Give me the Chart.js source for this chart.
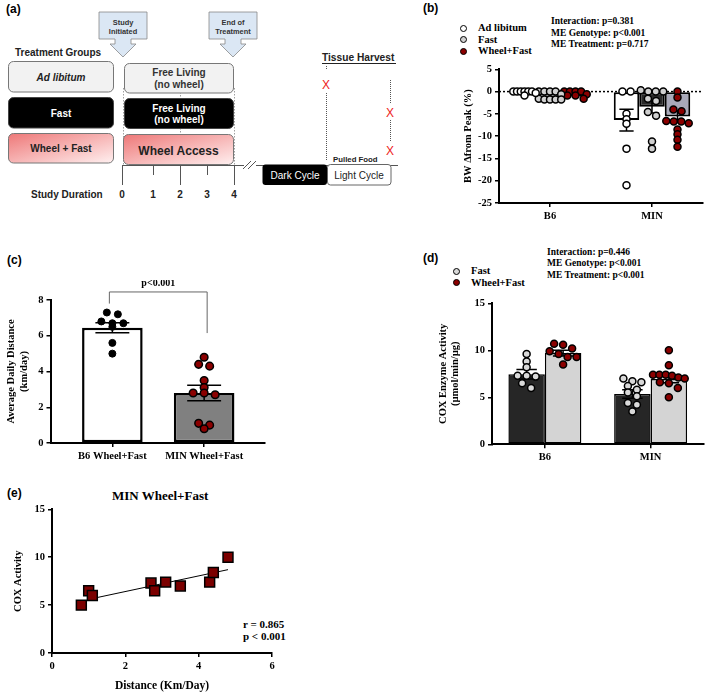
<!DOCTYPE html>
<html lang="en">
<head>
<meta charset="UTF-8">
<title>Wheel running, fasting and COX activity</title>
<script src="https://cdn.jsdelivr.net/npm/chart.js"></script>
<style>
    body { margin: 0; background: #fff; }
    #fig { position: relative; width: 709px; height: 693px; overflow: hidden; font-family: "Liberation Serif", "Times New Roman", serif; color: #000; }
    .abs { position: absolute; white-space: nowrap; }
    .panel { font-family: "Liberation Sans", Arial, sans-serif; font-weight: bold; font-size: 12px; line-height: 14px; }
    .stats { font-weight: bold; font-size: 9.5px; line-height: 11.5px; }
    .leg { font-weight: bold; font-size: 10.5px; line-height: 11.5px; }
    .dot { display: inline-block; width: 5px; height: 5px; border: 1.5px solid #000; border-radius: 50%; margin-right: 11px; vertical-align: -0.5px; }
    canvas { position: absolute; }
</style>
</head>
<body>
<div id="fig">
    <!-- (a) study design schematic -->
    <svg class="abs" style="left:0;top:0" width="400" height="205" font-family="'Liberation Sans', Arial, sans-serif" font-weight="bold">
        <defs>
            <linearGradient id="pinkGrad" x1="0" y1="0" x2="1" y2="1">
                <stop offset="0" stop-color="#ee7878"/>
                <stop offset="1" stop-color="#fff0f0"/>
            </linearGradient>
        </defs>
        <text x="6" y="13" font-size="12">(a)</text>

        <polygon points="99,12 147,12 147,39 131,39 131,44 136,44 123,57 110,44 115,44 115,39 99,39" fill="#dbe7f4" stroke="#888" stroke-width="0.8"/>
        <text x="123" y="24.5" font-size="7.4" text-anchor="middle" fill="#333">Study</text>
        <text x="123" y="33.5" font-size="7.4" text-anchor="middle" fill="#333">Initiated</text>
        <polygon points="209,12 257,12 257,39 241,39 241,44 246,44 233,57 220,44 225,44 225,39 209,39" fill="#dbe7f4" stroke="#888" stroke-width="0.8"/>
        <text x="233" y="24.5" font-size="7.4" text-anchor="middle" fill="#333">End of</text>
        <text x="233" y="33.5" font-size="7.4" text-anchor="middle" fill="#333">Treatment</text>

        <text x="15" y="56" font-size="10" fill="#222">Treatment Groups</text>
        <rect x="8.5" y="61.5" width="105" height="30.5" rx="5" fill="#f2f2f2" stroke="#777"/>
        <text x="61" y="80.5" font-size="10" font-style="italic" text-anchor="middle" fill="#222">Ad libitum</text>
        <rect x="8.5" y="97.5" width="105" height="30.5" rx="5" fill="#000" stroke="#444"/>
        <text x="61" y="116.5" font-size="10" text-anchor="middle" fill="#fff">Fast</text>
        <rect x="8.5" y="133.5" width="105" height="29.5" rx="5" fill="url(#pinkGrad)" stroke="#777"/>
        <text x="61" y="151.5" font-size="10" text-anchor="middle" fill="#222">Wheel + Fast</text>

        <g stroke="#888" stroke-width="0.8" stroke-dasharray="1.5,1.5">
            <line x1="123.5" y1="88" x2="123.5" y2="165"/>
            <line x1="234.5" y1="88" x2="234.5" y2="165"/>
            <line x1="180.5" y1="92" x2="180.5" y2="98"/>
            <line x1="180.5" y1="128" x2="180.5" y2="135"/>
        </g>
        <rect x="124.5" y="63.5" width="109" height="29.5" rx="5" fill="#f2f2f2" stroke="#777"/>
        <text x="179" y="75.5" font-size="10" text-anchor="middle" fill="#333">Free Living</text>
        <text x="179" y="87.5" font-size="10" text-anchor="middle" fill="#333">(no wheel)</text>
        <rect x="124.5" y="98.5" width="109" height="30" rx="5" fill="#000" stroke="#444"/>
        <text x="179" y="111.5" font-size="10" text-anchor="middle" fill="#fff">Free Living</text>
        <text x="179" y="123" font-size="10" text-anchor="middle" fill="#fff">(no wheel)</text>
        <rect x="123.5" y="134.5" width="110" height="30" rx="5" fill="url(#pinkGrad)" stroke="#777"/>
        <text x="178.5" y="155" font-size="12" text-anchor="middle" fill="#222">Wheel Access</text>

        <g stroke="#555" stroke-width="1">
            <line x1="122" y1="165.5" x2="244" y2="165.5"/>
            <line x1="256" y1="165.5" x2="398" y2="165.5"/>
            <line x1="243" y1="169" x2="251" y2="161"/>
            <line x1="248" y1="169" x2="256" y2="161"/>
            <line x1="122.5" y1="165" x2="122.5" y2="185"/>
            <line x1="153.5" y1="165" x2="153.5" y2="175"/>
            <line x1="180.5" y1="165" x2="180.5" y2="185"/>
            <line x1="207.5" y1="165" x2="207.5" y2="175"/>
            <line x1="234.5" y1="165" x2="234.5" y2="185"/>
        </g>
        <text x="31" y="198" font-size="10" fill="#222">Study Duration</text>
        <g font-size="10" text-anchor="middle" fill="#222">
            <text x="122" y="198">0</text>
            <text x="153" y="198">1</text>
            <text x="180" y="198">2</text>
            <text x="207" y="198">3</text>
            <text x="234" y="198">4</text>
        </g>

        <rect x="262.5" y="164.5" width="64.5" height="20.5" rx="3" fill="#000"/>
        <text x="295" y="178.5" font-size="10" font-weight="normal" text-anchor="middle" fill="#fff">Dark Cycle</text>
        <rect x="327.5" y="164.5" width="63.5" height="20.5" rx="3" fill="#fff" stroke="#666"/>
        <text x="359" y="178.5" font-size="10" font-weight="normal" text-anchor="middle" fill="#222">Light Cycle</text>
        <text x="333" y="161.5" font-size="7.8" fill="#222">Pulled Food</text>

        <text x="322" y="61" font-size="10.2" fill="#222">Tissue Harvest</text>
        <line x1="322" y1="63.5" x2="396" y2="63.5" stroke="#222" stroke-width="1"/>
        <g stroke="#555" stroke-width="1" stroke-dasharray="1,1">
            <line x1="326.5" y1="66" x2="326.5" y2="69"/>
            <line x1="326.5" y1="93" x2="326.5" y2="160"/>
            <line x1="390.5" y1="80" x2="390.5" y2="104"/>
            <line x1="390.5" y1="120" x2="390.5" y2="142"/>
        </g>
        <g font-size="12" font-weight="normal" text-anchor="middle" fill="#ee2222">
            <text x="326" y="88.5">X</text>
            <text x="390" y="116.5">X</text>
            <text x="390" y="154.5">X</text>
        </g>
    </svg>

    <!-- (b) -->
    <div class="abs panel" style="left:423px;top:1px">(b)</div>
    <div class="abs leg" style="left:460px;top:22px">
        <div><span class="dot" style="background:#fff"></span>Ad libitum</div>
        <div><span class="dot" style="background:#d0d0d0"></span>Fast</div>
        <div><span class="dot" style="background:#8b0000"></span>Wheel+Fast</div>
    </div>
    <div class="abs stats" style="left:551px;top:16px">
        <div>Interaction: p=0.381</div>
        <div>ME Genotype: p&lt;0.001</div>
        <div>ME Treatment: p=0.717</div>
    </div>
    <canvas id="chartB" width="254" height="172" style="left:455px;top:60px"></canvas>

    <!-- (c) -->
    <div class="abs panel" style="left:7px;top:253px">(c)</div>
    <canvas id="chartC" width="280" height="190" style="left:0px;top:280px"></canvas>

    <!-- (d) -->
    <div class="abs panel" style="left:423px;top:251px">(d)</div>
    <div class="abs leg" style="left:453px;top:265px">
        <div><span class="dot" style="background:#d9d9d9"></span>Fast</div>
        <div><span class="dot" style="background:#8b0000"></span>Wheel+Fast</div>
    </div>
    <div class="abs stats" style="left:547px;top:246.5px">
        <div>Interaction: p=0.446</div>
        <div>ME Genotype: p&lt;0.001</div>
        <div>ME Treatment: p&lt;0.001</div>
    </div>
    <canvas id="chartD" width="279" height="178" style="left:430px;top:294px"></canvas>

    <!-- (e) -->
    <div class="abs panel" style="left:7px;top:486px">(e)</div>
    <div class="abs" style="left:112px;top:488px;font-weight:bold;font-size:13px">MIN Wheel+Fast</div>
    <div class="abs" style="left:243px;top:618px;font-weight:bold;font-size:11px;line-height:12px">r = 0.865<br>p &lt; 0.001</div>
    <canvas id="chartE" width="290" height="193" style="left:0px;top:500px"></canvas>
</div>

<script>
    // ---- data ----
    const genotypes = ['B6', 'MIN'];

    // (b) body weight change from peak (%)
    const bwAdlibMean = [-0.2, -6.4];
    const bwFastMean = [-0.9, -3.4];
    const bwWheelMean = [-0.7, -5.6];
    const bwAdlibSem = [0.1, 2.45];
    const bwFastSem = [0.25, 1.4];
    const bwWheelSem = [0.2, 1.3];
    const bwAdlibB6 = [0, 0, 0, 0, 0, 0, -0.3, -0.9];
    const bwFastB6 = [0, 0, 0, 0, -0.6, -1.6, -1.8, -1.8, -1.8, -1.8];
    const bwWheelB6 = [0, 0, 0, 0, -0.6, -0.9, -0.9, -1.6];
    const bwAdlibMIN = [0, 0, -5.0, -6.2, -7.2, -12.8, -21.0];
    const bwFastMIN = [0.3, 0, 0, 0, -1.6, -2.1, -4.6, -5.4, -11.2, -12.8];
    const bwWheelMIN = [0, -1.3, -4.0, -4.4, -6.6, -6.7, -6.7, -7.1, -8.5, -9.6, -10.8, -12.4];

    // (c) average daily running distance (km/day)
    const runGroups = ['B6 Wheel+Fast', 'MIN Wheel+Fast'];
    const runMean = [6.45, 2.8];
    const runSem = [0.28, 0.43];
    const runB6 = [7.3, 7.2, 6.8, 6.7, 6.7, 6.5, 5.6, 5.0];
    const runMIN = [4.8, 4.4, 4.3, 3.5, 3.1, 2.8, 2.8, 2.7, 1.1, 1.0, 0.8];
    const runSig = 'p<0.001';

    // (d) COX enzyme activity (umol/min/ug)
    const coxFastMean = [7.45, 5.35];
    const coxWheelMean = [9.7, 6.95];
    const coxFastSem = [0.5, 0.45];
    const coxWheelSem = [0.3, 0.4];
    const coxFastB6 = [9.6, 8.8, 8.2, 7.3, 7.3, 7.2, 6.5, 6.0];
    const coxWheelB6 = [10.7, 10.6, 10.2, 9.9, 9.6, 9.3, 9.3, 8.5];
    const coxFastMIN = [7.0, 6.7, 6.6, 6.2, 5.8, 5.5, 5.1, 4.4, 4.2, 3.5];
    const coxWheelMIN = [10.0, 8.4, 7.4, 7.4, 7.4, 7.3, 7.1, 7.0, 6.6, 6.5, 6.0, 5.0];

    // (e) MIN Wheel+Fast: distance vs COX activity
    const distance = [0.8, 1.0, 1.1, 2.7, 2.8, 3.1, 3.5, 4.3, 4.4, 4.8];
    const coxActivity = [5.0, 6.5, 6.0, 7.3, 6.5, 7.4, 7.0, 7.4, 8.4, 10.0];
    const fitX = [1.0, 4.8];
    const fitY = [5.6, 8.7];

    // ---- chart setup ----
    Chart.defaults.font.family = '"Liberation Serif", "Times New Roman", serif';
    Chart.defaults.font.weight = 'bold';
    Chart.defaults.font.size = 10.5;
    Chart.defaults.color = '#000';
    Chart.defaults.animation = false;
    Chart.defaults.plugins.legend.display = false;
    Chart.defaults.plugins.tooltip.enabled = false;

    // spread points with similar values sideways, like a column scatter
    function swarm(vals, center, step, tol, maxWidth) {
        const sorted = [...vals].sort((a, b) => b - a);
        const rows = [];
        sorted.forEach(v => {
            const row = rows[rows.length - 1];
            if (row && row[0] - v < tol) row.push(v);
            else rows.push([v]);
        });
        const pts = [];
        rows.forEach(row => {
            const s = row.length > 1 ? Math.min(step, maxWidth / (row.length - 1)) : 0;
            row.forEach((v, i) => pts.push({ x: center + (i - (row.length - 1) / 2) * s, y: v }));
        });
        return pts;
    }

    function barCenter(i, j, k, cp) {
        return i + (j - (k - 1) / 2) * cp / k;
    }

    const tickGrid = { display: true, drawOnChartArea: false, drawTicks: true, tickLength: 4, color: '#000', lineWidth: 1.5, offset: false };
    const axisBorder = { display: true, color: '#000', width: 2 };

    function yAxis(min, max, step, title, width, titlePad) {
        return {
            min: min, max: max,
            ticks: { stepSize: step, padding: 3 },
            grid: tickGrid,
            border: axisBorder,
            title: { display: true, text: title, padding: { top: titlePad, bottom: 0 }, font: { size: 10.5, weight: 'bold' } },
            afterFit: s => { s.width = width; }
        };
    }

    function catAxis(min, max, labels, height) {
        return {
            type: 'linear', min: min, max: max, offset: false,
            afterBuildTicks: s => { s.ticks = labels.map((_, i) => ({ value: i })); },
            ticks: { callback: v => labels[v], padding: 3, maxRotation: 0, autoSkip: false },
            grid: tickGrid,
            border: axisBorder,
            afterFit: s => { s.height = height; }
        };
    }

    const errorBars = {
        id: 'errorBars',
        afterDatasetDraw(chart, args) {
            const ds = chart.data.datasets[args.index];
            if (!ds.sem) return;
            const ctx = chart.ctx, y = chart.scales.y;
            ctx.save();
            ctx.strokeStyle = '#000';
            ctx.lineWidth = 1.5;
            args.meta.data.forEach((bar, i) => {
                const v = ds.data[i].y;
                const hi = y.getPixelForValue(v + ds.sem[i]);
                const lo = y.getPixelForValue(v - ds.sem[i]);
                const half = bar.width * 0.28;
                ctx.beginPath();
                ctx.moveTo(bar.x, hi); ctx.lineTo(bar.x, lo);
                ctx.moveTo(bar.x - half, hi); ctx.lineTo(bar.x + half, hi);
                ctx.moveTo(bar.x - half, lo); ctx.lineTo(bar.x + half, lo);
                ctx.stroke();
            });
            ctx.restore();
        }
    };

    const zeroLine = {
        id: 'zeroLine',
        beforeDatasetsDraw(chart) {
            const { ctx, chartArea, scales } = chart;
            const y = scales.y.getPixelForValue(0);
            ctx.save();
            ctx.setLineDash([2, 2]);
            ctx.lineWidth = 1.5;
            ctx.strokeStyle = '#000';
            ctx.beginPath();
            ctx.moveTo(chartArea.left, y);
            ctx.lineTo(chartArea.right, y);
            ctx.stroke();
            ctx.restore();
        }
    };

    const bracket = {
        id: 'bracket',
        afterDraw(chart) {
            const { ctx, scales: { x, y } } = chart;
            const x0 = x.getPixelForValue(0) - 3, x1 = x.getPixelForValue(1) + 3;
            const top = y.getPixelForValue(8.45);
            ctx.save();
            ctx.strokeStyle = '#666';
            ctx.lineWidth = 1;
            ctx.beginPath();
            ctx.moveTo(x0, y.getPixelForValue(7.8));
            ctx.lineTo(x0, top);
            ctx.lineTo(x1, top);
            ctx.lineTo(x1, y.getPixelForValue(6.15));
            ctx.stroke();
            ctx.fillStyle = '#000';
            ctx.font = 'bold 10px "Liberation Serif"';
            ctx.textAlign = 'center';
            ctx.textBaseline = 'middle';
            ctx.fillText(runSig, (x0 + x1) / 2, top - 9);
            ctx.restore();
        }
    };

    // grouped bars with their dots, on a linear x axis (0 = B6, 1 = MIN)
    function groupedSets(groups, cp, barBorder, dotOpts) {
        const sets = [];
        groups.forEach(g => {
            sets.push({
                type: 'bar', label: g.label,
                data: genotypes.map((_, i) => ({ x: i, y: g.mean[i] })),
                sem: g.sem,
                backgroundColor: g.bar, borderColor: '#000', borderWidth: barBorder, borderSkipped: false,
                categoryPercentage: cp, barPercentage: 1, order: 2
            });
        });
        groups.forEach((g, j) => {
            const data = [];
            g.pts.forEach((vals, i) => data.push(...swarm(vals, barCenter(i, j, groups.length, cp), dotOpts.step, dotOpts.tol, dotOpts.width)));
            sets.push({
                type: 'scatter', data: data,
                backgroundColor: g.dot, borderColor: '#000', borderWidth: 1.5, pointRadius: 3.5, clip: false, order: 1
            });
        });
        return sets;
    }

    // (b)
    new Chart(document.getElementById('chartB'), {
        type: 'bar',
        data: {
            datasets: groupedSets([
                { label: 'Ad libitum', mean: bwAdlibMean, sem: bwAdlibSem, pts: [bwAdlibB6, bwAdlibMIN], bar: '#ffffff', dot: '#ffffff' },
                { label: 'Fast', mean: bwFastMean, sem: bwFastSem, pts: [bwFastB6, bwFastMIN], bar: '#2a2a2a', dot: '#d0d0d0' },
                { label: 'Wheel+Fast', mean: bwWheelMean, sem: bwWheelSem, pts: [bwWheelB6, bwWheelMIN], bar: '#a9a9b9', dot: '#8b0000' }
            ], 0.75, 2, { step: 0.08, tol: 0.9, width: 0.22 })
        },
        options: {
            responsive: false,
            layout: { padding: { top: 7, right: 6, left: 0, bottom: 0 } },
            scales: {
                x: catAxis(-0.5, 1.5, genotypes, 29),
                y: yAxis(-25, 5, 5, 'BW \u0394from Peak (%)', 44, 7)
            }
        },
        plugins: [zeroLine, errorBars]
    });

    // (c)
    new Chart(document.getElementById('chartC'), {
        type: 'bar',
        data: {
            datasets: [
                {
                    type: 'bar', data: runGroups.map((_, i) => ({ x: i, y: runMean[i] })), sem: runSem,
                    backgroundColor: ['#ffffff', '#808080'], borderColor: '#000', borderWidth: 2.5, borderSkipped: false,
                    categoryPercentage: 0.66, barPercentage: 1, order: 2
                },
                { type: 'scatter', data: swarm(runB6, 0, 0.12, 0.25, 0.45), backgroundColor: '#000', borderColor: '#000', borderWidth: 1, pointRadius: 3.5, clip: false, order: 1 },
                { type: 'scatter', data: swarm(runMIN, 1, 0.12, 0.25, 0.45), backgroundColor: '#8b0000', borderColor: '#000', borderWidth: 1.5, pointRadius: 3.8, clip: false, order: 1 }
            ]
        },
        options: {
            responsive: false,
            layout: { padding: { top: 20, right: 15, left: 0, bottom: 0 } },
            scales: {
                x: catAxis(-0.674, 1.663, runGroups, 27),
                y: yAxis(0, 8, 2, ['Average Daily Distance', '(km/day)'], 50.5, 5)
            }
        },
        plugins: [errorBars, bracket]
    });

    // (d)
    new Chart(document.getElementById('chartD'), {
        type: 'bar',
        data: {
            datasets: groupedSets([
                { label: 'Fast', mean: coxFastMean, sem: coxFastSem, pts: [coxFastB6, coxFastMIN], bar: '#262626', dot: '#d9d9d9' },
                { label: 'Wheel+Fast', mean: coxWheelMean, sem: coxWheelSem, pts: [coxWheelB6, coxWheelMIN], bar: '#d4d4d4', dot: '#8b0000' }
            ], 0.69, 1.5, { step: 0.085, tol: 0.6, width: 0.3 })
        },
        options: {
            responsive: false,
            layout: { padding: { top: 6.7, right: 2, left: 0, bottom: 0 } },
            scales: {
                x: catAxis(-0.5, 1.5, genotypes, 27.7),
                y: yAxis(0, 15, 5, ['COX Enzyme Activity', '(\u00b5mol/min/\u00b5g)'], 62, 6.5)
            }
        },
        plugins: [errorBars]
    });

    // (e)
    new Chart(document.getElementById('chartE'), {
        type: 'scatter',
        data: {
            datasets: [
                {
                    data: distance.map((d, i) => ({ x: d, y: coxActivity[i] })),
                    pointStyle: 'rect', pointRadius: 7, backgroundColor: '#7b0000', borderColor: '#000', borderWidth: 1.5,
                    clip: false, order: 1
                },
                {
                    type: 'line', data: fitX.map((d, i) => ({ x: d, y: fitY[i] })),
                    borderColor: '#000', borderWidth: 1, pointRadius: 0, order: 2
                }
            ]
        },
        options: {
            responsive: false,
            layout: { padding: { top: 6, right: 18, left: 0, bottom: 0 } },
            scales: {
                x: {
                    type: 'linear', min: 0, max: 6,
                    ticks: { stepSize: 2, padding: 3 },
                    grid: tickGrid,
                    border: axisBorder,
                    title: { display: true, text: 'Distance (Km/Day)', padding: { top: 0, bottom: 0 }, font: { size: 11.5, weight: 'bold' } },
                    afterFit: s => { s.height = 40; }
                },
                y: yAxis(0, 15, 5, 'COX Activity', 52, 12)
            }
        }
    });
</script>
</body>
</html>
